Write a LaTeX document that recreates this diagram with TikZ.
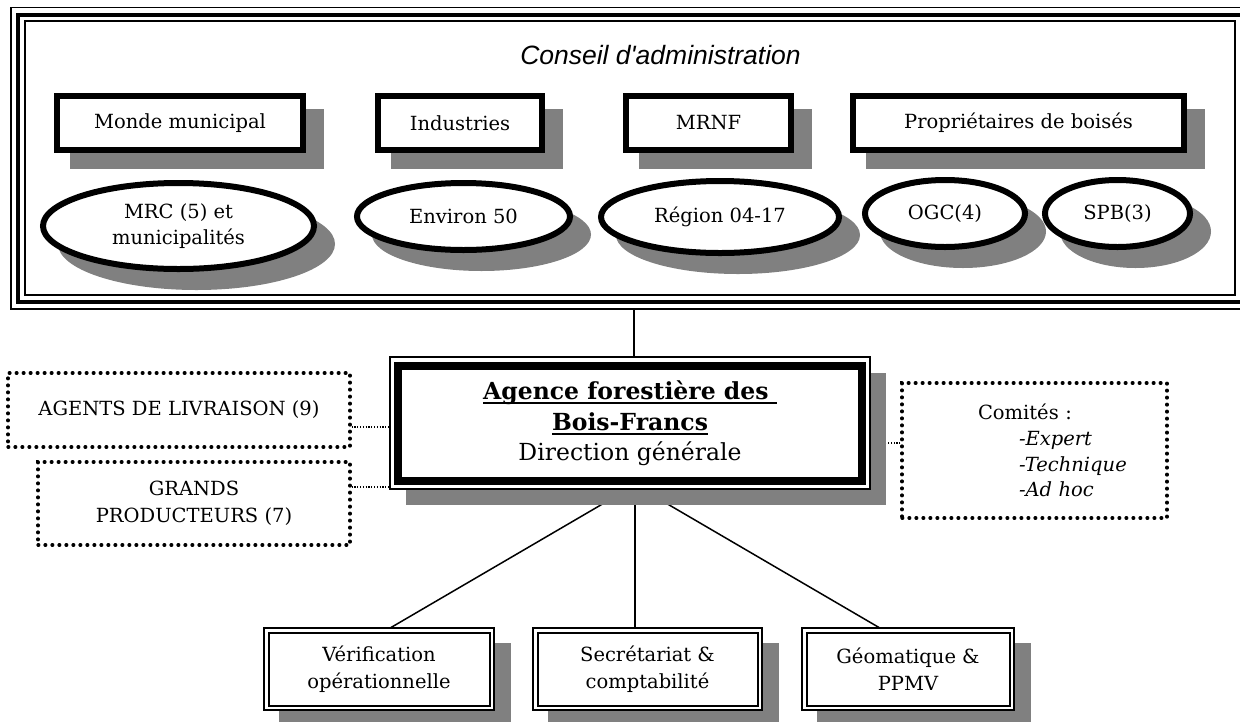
\documentclass[tikz,border=0pt]{standalone}
\usepackage{fontspec}
\setmainfont{DejaVu Serif}
\newfontfamily\titlefont{Liberation Sans}
\usetikzlibrary{shapes.geometric}
\pgfdeclarelayer{lines}
\pgfdeclarelayer{shadows}
\pgfsetlayers{lines,shadows,main}
\definecolor{shadowc}{HTML}{808080}
\newcommand\myul[1]{\setbox0\hbox{#1}\leavevmode\rlap{\rule[-4.5pt]{\wd0}{1.8pt}}\box0}
\newcommand\topbox[6]{%
  \node[thickbox, minimum width=#4-6, minimum height=#5-6] (#1) at (#2,#3) {#6};
  \begin{pgfonlayer}{shadows}
    \fill[shadowc] (#2-#4/2+16,#3-#5/2+16) rectangle (#2+#4/2+18,#3+#5/2+16);
  \end{pgfonlayer}}
\newcommand\ellbox[6]{%
  \node[thickell, minimum width=#4-6, minimum height=#5-6] (#1) at (#2,#3) {#6};
  \begin{pgfonlayer}{shadows}
    \fill[shadowc] (#2+18,#3+18) ellipse [x radius=#4/2, y radius=#5/2];
  \end{pgfonlayer}}
\newcommand\botbox[4]{%
  \node[dblbox, minimum width=#3, minimum height=77.5] (#1) at (#2,669) {#4};
  \begin{pgfonlayer}{shadows}
    \fill[shadowc] (#2-#3/2-3.25+16,643) rectangle (#2+#3/2+3.25+16,727);
  \end{pgfonlayer}}
\begin{document}
\begin{tikzpicture}[x=1pt,y=-1pt,
  every node/.style={font=\fontsize{19.5}{26}\selectfont, inner sep=0pt},
  thickbox/.style={rectangle, draw, line width=6pt, fill=white, align=center},
  thickell/.style={ellipse, draw, line width=6pt, fill=white, align=center},
  dotbox/.style={rectangle, draw, line width=3.2pt, line cap=round, dash pattern=on 0.8pt off 6.2pt, align=center},
  dblbox/.style={rectangle, draw, line width=2pt, double=white, double distance=2.5pt, fill=white, align=center, font=\fontsize{19.5}{26.5}\selectfont},
  conn/.style={line width=1.5pt},
  dotline/.style={line width=1.2pt, dash pattern=on 1.2pt off 1.6pt}]
\useasboundingbox (0,0) rectangle (1240,721);
% Conseil frame
\node[draw, line width=1.5pt, minimum width=1210, minimum height=274] (conseil) at (630,158) {};
\draw[line width=4.5pt] ([shift={(-6.25,-5.25)}]conseil.north west) rectangle ([shift={(6.25,6.25)}]conseil.south east);
\draw[line width=1.5pt] ([shift={(-13.25,-12.75)}]conseil.north west) rectangle ([shift={(13.25,13.25)}]conseil.south east);
\node[font=\titlefont\itshape\fontsize{26.5}{30}\selectfont] (titre) at (660.5,55) {Conseil d\textquotesingle administration};
% top boxes
\topbox{monde}{180}{123}{252}{60}{Monde municipal}
\topbox{indus}{460}{123}{170}{60}{Industries}
\topbox{mrnf}{708.5}{123}{171}{60}{MRNF}
\topbox{prop}{1018.5}{123}{337}{60}{Propriétaires de boisés}
% ellipses
\ellbox{mrc}{178.5}{226}{277}{92}{\fontsize{19.5}{32}\selectfont MRC (5) et\\municipalités}
\ellbox{env}{463.5}{216.5}{219}{73}{Environ 50}
\ellbox{reg}{720}{217}{244}{78}{Région 04-17}
\ellbox{ogc}{945}{213.5}{166}{73}{OGC(4)}
\ellbox{spb}{1117.5}{213.5}{151}{73}{SPB(3)}
% direction
\node[draw, line width=8pt, fill=white, minimum width=464, minimum height=115, align=center,
      font=\fontsize{23.5}{30.5}\selectfont] (dir) at (630,423.5)
  {\myul{\textbf{Agence forestière des\ }}\\\myul{\textbf{Bois-Francs}}\\Direction générale};
\begin{pgfonlayer}{shadows}
  \fill[shadowc] ([shift={(12,11)}]dir.north west) rectangle ([shift={(20,20)}]dir.south east);
  \draw[line width=1.5pt, fill=white] ([shift={(-4,-5)}]dir.north west) rectangle ([shift={(4,4)}]dir.south east);
\end{pgfonlayer}
% dotted boxes
\node[dotbox, minimum width=342, minimum height=74] (agents) at (179,410) {AGENTS DE LIVRAISON (9)};
\node[dotbox, minimum width=312, minimum height=83, font=\fontsize{19.5}{27}\selectfont] (grands) at (194,503.5) {GRANDS\\PRODUCTEURS (7)};
\node[dotbox, minimum width=265, minimum height=135, text width=265pt, align=left,
      font=\fontsize{19.5}{25.7}\selectfont] (comites) at (1034.5,450.5)
  {\hspace*{76pt}Comités :\\\hspace*{117pt}\textit{-Expert}\\\hspace*{117pt}\textit{-Technique}\\\hspace*{117pt}\textit{-Ad hoc}};
% bottom boxes
\botbox{verif}{379}{225.5}{Vérification\\opérationnelle}
\botbox{secr}{647.5}{224.5}{Secrétariat \&\\comptabilité}
\botbox{geo}{908}{207.5}{Géomatique \&\\PPMV}
% connectors
\coordinate (a1) at ([yshift=-17pt]agents.east);
\coordinate (g1) at ([yshift=16.5pt]grands.east);
\coordinate (c1) at ([yshift=7.5pt]comites.west);
\begin{pgfonlayer}{lines}
  \draw[conn] ([shift={(4,14)}]conseil.south) -- ([xshift=4pt]dir.north);
  \draw[conn] ([xshift=5pt]dir.south) -- ([xshift=9pt]verif.north);
  \draw[conn] ([xshift=5pt]dir.south) -- ([xshift=-12.5pt]secr.north);
  \draw[conn] ([xshift=5pt]dir.south) -- ([xshift=-26pt]geo.north);
  \draw[dotline] (a1) -- (a1 -| dir.west);
  \draw[dotline] (g1) -- (g1 -| dir.west);
  \draw[dotline] (c1) -- (c1 -| dir.east);
\end{pgfonlayer}
\end{tikzpicture}
\end{document}
